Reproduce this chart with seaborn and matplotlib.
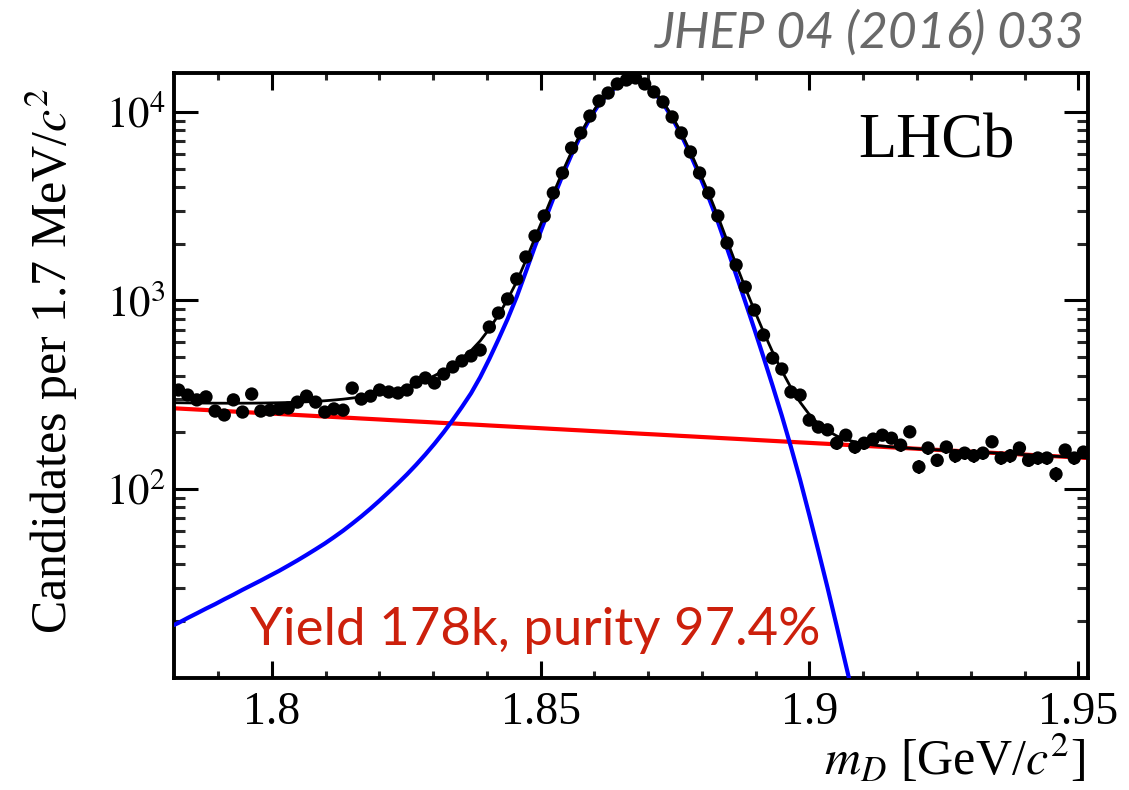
import numpy as np
import pandas as pd
import matplotlib
matplotlib.use("Agg")
import matplotlib.pyplot as plt
import seaborn as sns
from matplotlib.ticker import FixedLocator, FixedFormatter, NullFormatter

# ---------------- data ----------------
bin_low = 1.7818
bin_width = 0.0017
n_bins = 100

counts = [335, 315, 297, 308, 259, 247, 297, 256, 319, 259,
          262, 266, 269, 289, 311, 289, 256, 266, 262, 343,
          300, 311, 335, 327, 323, 335, 369, 388, 365, 407,
          444, 478, 508, 546, 723, 858, 1019, 1301, 1701, 2199,
          2808, 3718, 4746, 6440, 7740, 9520, 11440, 12610, 14080, 14780,
          15150, 14080, 12770, 11300, 9410, 7740, 6135, 4746, 3718, 2808,
          2018, 1543, 1179, 890, 656, 495, 433, 327, 315, 232,
          213, 206, 175, 193, 167, 175, 184, 193, 186, 171,
          201, 131, 165, 142, 167, 150, 155, 150, 155, 178,
          146, 150, 165, 142, 146, 146, 120, 161, 146, 157]

# background fit (red line) at the bin centres
bkg_fit = [267.2, 265.6, 264.0, 262.4, 260.8, 259.2, 257.6, 256.1, 254.5, 253.0,
           251.5, 250.0, 248.4, 246.9, 245.4, 243.9, 242.4, 241.0, 239.5, 238.1,
           236.6, 235.2, 233.8, 232.3, 230.9, 229.5, 228.1, 226.8, 225.4, 224.0,
           222.7, 221.3, 220.0, 218.7, 217.3, 216.0, 214.7, 213.4, 212.1, 210.9,
           209.6, 208.3, 207.1, 205.8, 204.6, 203.3, 202.1, 200.9, 199.7, 198.4,
           197.2, 196.0, 194.9, 193.7, 192.5, 191.3, 190.2, 189.0, 187.9, 186.7,
           185.6, 184.5, 183.4, 182.2, 181.1, 180.0, 178.9, 177.8, 176.7, 175.7,
           174.6, 173.6, 172.5, 171.5, 170.4, 169.4, 168.4, 167.4, 166.3, 165.3,
           164.3, 163.3, 162.3, 161.3, 160.4, 159.4, 158.4, 157.5, 156.5, 155.6,
           154.6, 153.7, 152.7, 151.8, 150.9, 150.0, 149.1, 148.2, 147.3, 146.4]
bkg_edges = [268.0, 146.0]

# signal fit (blue line) at the bin centres (first 81 bins; beyond it is negligible)
sig_fit = [19.5, 20.7, 21.9, 23.2, 24.5, 26.0, 27.5, 29.2, 30.9, 32.7,
           34.7, 36.8, 39.2, 41.8, 44.7, 47.9, 51.4, 55.5, 60.1, 65.5,
           71.6, 78.7, 86.9, 96.4, 107.2, 119.7, 134.6, 152.4, 173.8, 200.0,
           232.3, 272.3, 322, 392, 490, 622, 798, 1047, 1422, 1941,
           2600, 3480, 4600, 5950, 7500, 9250, 11000, 12500, 13700, 14500,
           14850, 14150, 12750, 11150, 9300, 7560, 5950, 4600, 3516, 2620,
           1900, 1370, 985, 705, 500, 352, 245, 167, 112, 73,
           47, 30, 18.8, 11.7, 7.3, 4.5, 2.7, 1.6, 0.95, 0.55, 0.3]
sig_edge_left = 19.0

x_ticks = [1.8, 1.85, 1.9, 1.95]
x_ticklabels = ["1.8", "1.85", "1.9", "1.95"]
y_ticks = [1e2, 1e3, 1e4]
y_ticklabels = [r"$10^{2}$", r"$10^{3}$", r"$10^{4}$"]

# ---------------- derived tables ----------------
centers = bin_low + bin_width * (np.arange(n_bins) + 0.5)
x_lo, x_hi = bin_low, bin_low + bin_width * n_bins

df_pts = pd.DataFrame({"m": centers, "n": np.array(counts, float)})

sig_full = np.zeros(n_bins)
sig_full[:len(sig_fit)] = sig_fit
curve_x = np.concatenate([[x_lo], centers, [x_hi]])
curve_bkg = np.concatenate([[bkg_edges[0]], bkg_fit, [bkg_edges[1]]])
curve_sig = np.concatenate([[sig_edge_left], sig_full, [0.0]])
curve_tot = curve_bkg + curve_sig

df_bkg = pd.DataFrame({"m": curve_x, "v": curve_bkg})
nsig = len(sig_fit) + 1
df_sig = pd.DataFrame({"m": curve_x[:nsig], "v": curve_sig[:nsig]})
df_tot = pd.DataFrame({"m": curve_x, "v": curve_tot})

# ---------------- plotting ----------------
sns.set_theme(style="ticks")
plt.rcParams["font.family"] = ["Liberation Serif", "DejaVu Serif"]
plt.rcParams["mathtext.fontset"] = "stix"

fig = plt.figure(figsize=(11.29, 7.90), dpi=100)
ax = fig.add_axes([174 / 1129, 1 - 678 / 790, (1088 - 174) / 1129, (678 - 73) / 790])

sns.lineplot(data=df_bkg, x="m", y="v", ax=ax, color="#ff0000", lw=3.0,
             estimator=None, sort=False, zorder=2)
sns.lineplot(data=df_sig, x="m", y="v", ax=ax, color="#0000ff", lw=3.0,
             estimator=None, sort=False, zorder=3)
sns.lineplot(data=df_tot, x="m", y="v", ax=ax, color="black", lw=2.0,
             estimator=None, sort=False, zorder=4)
ax.errorbar(df_pts["m"], df_pts["n"], yerr=np.sqrt(df_pts["n"]), fmt="none",
            ecolor="black", elinewidth=1.7, capsize=0, zorder=5)
sns.scatterplot(data=df_pts, x="m", y="n", ax=ax, color="black", s=92,
                edgecolor="none", linewidth=0, zorder=6)

ax.set_yscale("log")
ax.set_xlim(x_lo, x_hi)
ax.set_ylim(9.94, 16100)

ax.xaxis.set_major_locator(FixedLocator(x_ticks))
ax.xaxis.set_major_formatter(FixedFormatter(x_ticklabels))
ax.xaxis.set_minor_locator(FixedLocator(np.round(np.arange(1.79, 1.951, 0.01), 3)))
ax.yaxis.set_major_locator(FixedLocator(y_ticks))
ax.yaxis.set_major_formatter(FixedFormatter(y_ticklabels))
yminor = [m * 10 ** e for e in (1, 2, 3, 4) for m in range(2, 10)]
ax.yaxis.set_minor_locator(FixedLocator(yminor))
ax.yaxis.set_minor_formatter(NullFormatter())

ax.tick_params(axis="x", which="major", direction="in", length=12, width=2.2,
               top=True, bottom=True, labelsize=33, pad=10, colors="black")
ax.tick_params(axis="x", which="minor", direction="in", length=5, width=2.2,
               top=True, bottom=True)
ax.tick_params(axis="y", which="major", direction="in", length=17, width=2.2,
               left=True, right=True, labelsize=31, pad=6, colors="black")
ax.tick_params(axis="y", which="minor", direction="in", length=8, width=2.2,
               left=True, right=True)
for sp in ax.spines.values():
    sp.set_linewidth(2.8)
    sp.set_color("black")

ax.set_xlabel("")
ax.set_ylabel("")

fig.text(1085 / 1129, 1 - 775 / 790, r"$m_D$ [GeV/$c^2$]", ha="right",
         va="baseline", fontsize=36, color="black")
fig.text(52 / 1129, 1 - 88 / 790, r"Candidates per 1.7 MeV/$c^2$", rotation=90,
         ha="center", va="top", fontsize=36, color="black")
fig.text(858 / 1129, 1 - 157 / 790, "LHCb", ha="left", va="baseline",
         fontsize=45, color="black")
fig.text(1085 / 1129, 1 - 48 / 790, "JHEP 04 (2016) 033", ha="right",
         va="baseline", fontsize=36, color="#696969", family=["Lato", "DejaVu Sans"],
         style="italic")
fig.text(250 / 1129, 1 - 645 / 790, "Yield 178k, purity 97.4%", ha="left",
         va="baseline", fontsize=38, color="#cc200c", family=["Lato", "DejaVu Sans"])

fig.savefig("out.png", dpi=100)
